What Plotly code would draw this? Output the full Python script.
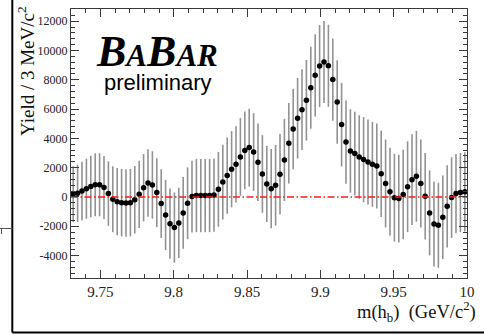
import plotly.graph_objects as go

# ---- data ----
bin_width = 0.003
x_start = 9.7315
yield_vals = [200, 250, 400, 560, 720, 830, 830, 640, 230, -160,
              -320, -390, -410, -390, -190, 180, 630, 950, 820, 300,
              -450, -1230, -1820, -2090, -1770, -1090, -430, 30, 100, 100,
              100, 100, 130, 520, 1020, 1460, 1890, 2230, 2730, 3180,
              3370, 3070, 2370, 1570, 890, 570, 800, 1550, 2530, 3670,
              4640, 5380, 5960, 6600, 7460, 8300, 8940, 9210, 8960, 8010,
              6480, 4940, 3750, 3140, 2960, 2730, 2550, 2390, 2230, 2120,
              1590, 920, 360, -50, -110, 170, 700, 1180, 1410, 920,
              50, -1090, -1840, -1930, -1390, -640, -40, 230, 300, 350]
yield_errs = [1900, 1950, 2000, 2050, 2100, 2150, 2150, 2150, 2200, 2250,
              2300, 2300, 2300, 2300, 2300, 2300, 2300, 2300, 2300, 2350,
              2350, 2400, 2400, 2400, 2400, 2450, 2450, 2450, 2500, 2500,
              2500, 2500, 2500, 2550, 2550, 2600, 2600, 2600, 2650, 2650,
              2650, 2650, 2650, 2650, 2600, 2700, 2750, 2750, 2800, 2750,
              2750, 2750, 2750, 2750, 2800, 2800, 2800, 2800, 2800, 2800,
              2850, 2850, 2850, 2850, 2850, 2850, 2900, 2900, 2900, 2900,
              2950, 3000, 3000, 3000, 3000, 3050, 3100, 3100, 3100, 3000,
              2950, 2900, 2900, 2900, 2850, 2800, 2750, 2700, 2700, 2700]
mass = [x_start + bin_width * i for i in range(len(yield_vals))]

x_range = [9.73, 10.0]
y_range = [-5530, 12830]
x_tickvals = [9.75, 9.8, 9.85, 9.9, 9.95, 10.0]
x_ticktext = ["9.75", "9.8", "9.85", "9.9", "9.95", "10"]
y_tickvals = [-4000, -2000, 0, 2000, 4000, 6000, 8000, 10000, 12000]
y_ticktext = ["-4000", "-2000", "0", "2000", "4000", "6000", "8000", "10000", "12000"]

# ---- layout geometry (pixels) ----
W, H = 484, 334
L, R, T, B = 71, 467, 9, 278


def px(xp):
    return (xp - L) / (R - L)


def py(yp):
    return (B - yp) / (B - T)


serif = "Liberation Serif"
axcol = "#3a3a3a"

fig = go.Figure()
fig.add_trace(go.Scatter(
    x=mass, y=yield_vals, mode="markers",
    marker=dict(color="black", size=5.5),
    error_y=dict(type="data", array=yield_errs, color="#929292",
                 thickness=1.6, width=0),
    showlegend=False, hoverinfo="skip"))
fig.add_trace(go.Scatter(
    x=x_range, y=[0, 0], mode="lines",
    line=dict(color="#ff1a1a", width=1.5, dash="7px,2.5px,1.5px,2.5px"),
    showlegend=False, hoverinfo="skip"))

common_axis = dict(showline=True, linecolor=axcol, linewidth=1, mirror="allticks",
                   ticks="inside", ticklen=8, tickcolor=axcol, tickwidth=1,
                   showgrid=False, zeroline=False)

fig.update_xaxes(range=x_range, tickmode="array", tickvals=x_tickvals, ticktext=x_ticktext,
                 tickfont=dict(family=serif, size=15, color="#222"),
                 minor=dict(tickmode="linear", tick0=9.73, dtick=0.01, ticklen=4,
                            ticks="inside", tickcolor=axcol, showgrid=False),
                 **common_axis)
fig.update_yaxes(range=y_range, tickmode="array", tickvals=y_tickvals, ticktext=y_ticktext,
                 tickfont=dict(family=serif, size=12, color="#222"),
                 minor=dict(tickmode="linear", tick0=0, dtick=400, ticklen=4,
                            ticks="inside", tickcolor=axcol, showgrid=False),
                 **common_axis)

annotations = [
    dict(text="Yield / 3 MeV/c<sup>2</sup>", textangle=-90, x=px(26), y=py(4),
         xanchor="center", yanchor="top", font=dict(family=serif, size=19, color="#111")),
    dict(text="m(h<sub>b</sub>)\u00a0\u00a0(GeV/c<sup>2</sup>)", x=px(478), y=py(311),
         xanchor="right", yanchor="middle", font=dict(family=serif, size=18.5, color="#111")),
    dict(text='<b><i>B<span style="font-size:31px">A</span>B<span style="font-size:31px">AR</span></i></b>',
         x=px(94), y=py(52), xanchor="left", yanchor="middle",
         font=dict(family=serif, size=44, color="black")),
    dict(text="preliminary", x=px(102), y=py(82), xanchor="left", yanchor="middle",
         font=dict(family="Liberation Sans", size=22, color="black")),
]
for a in annotations:
    a.update(xref="paper", yref="paper", showarrow=False)

shapes = [
    dict(type="line", x0=px(12.3), x1=px(12.3), y0=py(0), y1=py(332.5),
         line=dict(color="black", width=2)),
    dict(type="line", x0=px(12.3), x1=px(484), y0=py(332.5), y1=py(332.5),
         line=dict(color="black", width=2)),
    dict(type="line", x0=px(0), x1=px(12.3), y0=py(228.5), y1=py(228.5),
         line=dict(color="#555", width=1)),
    dict(type="line", x0=px(1.5), x1=px(1.5), y0=py(228.5), y1=py(234),
         line=dict(color="#555", width=1)),
]
for s in shapes:
    s.update(xref="paper", yref="paper")

fig.update_layout(width=W, height=H, margin=dict(l=L, r=W - R, t=T, b=H - B),
                  paper_bgcolor="white", plot_bgcolor="white",
                  annotations=annotations, shapes=shapes, showlegend=False)

fig.write_html("out.html")
